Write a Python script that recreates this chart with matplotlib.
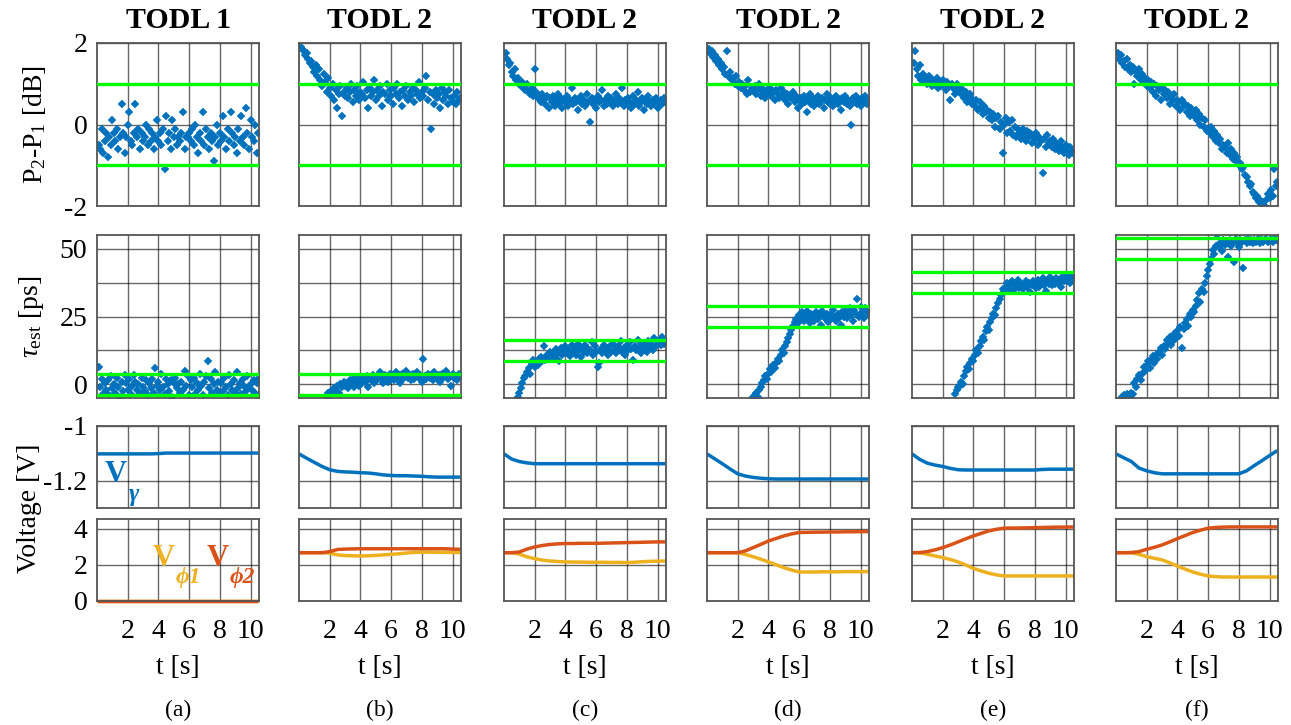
import numpy as np
import matplotlib
matplotlib.use('Agg')
import matplotlib.pyplot as plt

plt.rcParams['font.family'] = ['Liberation Serif', 'DejaVu Serif']
plt.rcParams['mathtext.fontset'] = 'custom'
plt.rcParams['mathtext.rm'] = 'Liberation Serif'
plt.rcParams['mathtext.it'] = 'Liberation Serif:italic'
plt.rcParams['mathtext.bf'] = 'Liberation Serif:bold'

# ---- data ----
titles = ['TODL 1', 'TODL 2', 'TODL 2', 'TODL 2', 'TODL 2', 'TODL 2']
panel_tags = ['(a)', '(b)', '(c)', '(d)', '(e)', '(f)']

# P2-P1 [dB], sampled every 0.1 s from t = 0.1 s
p_a = [-0.5, -0.6, -0.1, -0.7, -0.4, -0.2, -0.8, -0.3, -0.5, 0.1,
       -0.2, -0.4, -0.1, -0.6, -0.3, 0.5, -0.2, -0.7, -0.3, 0.0,
       0.3, -0.4, -0.5, -0.2, 0.5, -0.3, -0.1, -0.6, -0.2, -0.4,
       -0.3, 0.0, -0.5, -0.1, -0.4, -0.2, -0.6, -0.3, 0.1, -0.4,
       -0.2, -0.5, -0.1, -1.1, 0.2, -0.4, -0.2, -0.6, 0.1, -0.3,
       -0.1, -0.5, -0.3, -0.4, -0.2, 0.3, -0.6, -0.3, -0.3, -0.2,
       -0.4, -0.1, -0.5, 0.0, -0.3, -0.7, -0.2, -0.4, 0.3, -0.5,
       -0.1, -0.3, -0.6, -0.2, -0.4, -0.9, -0.3, 0.0, -0.5, -0.2,
       -0.4, 0.2, -0.3, -0.6, -0.1, -0.4, 0.3, -0.2, -0.5, -0.3,
       -0.7, -0.1, -0.4, 0.2, -0.3, -0.5, 0.4, -0.2, -0.6, 0.1,
       -0.3, -0.4, 0.0, -0.7, -0.2]
p_b = [1.9, 1.85, 1.8, 1.7, 1.75, 1.6, 1.5, 1.55, 1.4, 1.3,
       1.45, 1.2, 1.35, 1.1, 0.95, 1.25, 1.05, 0.8, 1.15, 0.9,
       0.7, 1.0, 0.6, 0.85, 0.4, 0.75, 0.95, 0.2, 0.8, 0.7,
       0.9, 0.65, 0.8, 1.0, 0.55, 0.85, 0.7, 0.95, 0.6, 0.8,
       0.75, 1.05, 0.65, 0.85, 0.4, 0.9, 0.7, 0.8, 1.1, 0.6,
       0.85, 0.7, 0.95, 0.45, 0.8, 0.75, 1.0, 0.6, 0.85, 0.7,
       0.5, 0.9, 0.75, 1.0, 0.65, 0.8, 0.45, 0.85, 0.7, 0.95,
       0.6, 0.8, 0.7, 0.9, 0.55, 0.85, 0.75, 1.05, 0.65, 0.8,
       0.7, 0.9, 1.2, 0.6, 0.8, -0.1, 0.75, 0.5, 0.85, 0.65,
       0.75, 0.4, 0.9, 0.6, 0.8, 0.7, 0.5, 0.85, 0.65, 0.55,
       0.7, 0.5, 0.8, 0.6, 0.65]
p_c = [1.75, 1.6, 1.45, 1.5, 1.3, 1.2, 1.35, 1.1, 1.15, 1.0,
       0.95, 1.05, 0.9, 0.85, 1.0, 0.8, 0.75, 0.9, 0.7, 1.35,
       0.8, 0.65, 0.7, 0.55, 0.75, 0.6, 0.5, 0.7, 0.4, 0.65,
       0.55, 0.7, 0.45, 0.6, 0.75, 0.5, 0.65, 0.4, 0.6, 0.55,
       0.7, 0.45, 0.6, 0.9, 0.5, 0.65, 0.55, 0.35, 0.6, 0.7,
       0.5, 0.6, 0.45, 0.75, 0.55, 0.05, 0.65, 0.5, 0.6, 0.4,
       0.7, 0.55, 0.6, 0.85, 0.45, 0.6, 0.5, 0.7, 0.55, 0.65,
       0.45, 0.6, 0.75, 0.5, 0.65, 0.55, 0.9, 0.45, 0.6, 0.5,
       0.65, 0.55, 0.4, 0.7, 0.5, 0.6, 0.8, 0.45, 0.55, 0.65,
       0.35, 0.6, 0.5, 0.7, 0.55, 0.45, 0.6, 0.5, 0.65, 0.4,
       0.55, 0.6, 0.5, 0.65, 0.55]
p_d = [1.85, 1.75, 1.8, 1.65, 1.7, 1.55, 1.6, 1.45, 1.5, 1.35,
       1.4, 1.25, 1.8, 1.2, 1.3, 1.1, 1.15, 1.0, 1.2, 0.95,
       1.05, 0.9, 1.0, 0.85, 0.95, 0.75, 1.1, 0.8, 0.9, 0.85,
       0.95, 0.75, 0.85, 1.0, 0.7, 0.9, 0.8, 0.65, 0.85, 0.75,
       0.9, 0.7, 0.8, 0.6, 0.85, 0.75, 0.65, 0.9, 0.7, 0.8,
       0.6, 0.75, 0.5, 0.7, 0.65, 0.8, 0.55, 0.7, 0.4, 0.6,
       0.65, 0.5, 0.7, 0.55, 0.3, 0.6, 0.75, 0.5, 0.65, 0.45,
       0.6, 0.7, 0.5, 0.55, 0.65, 0.4, 0.6, 0.75, 0.55, 0.5,
       0.65, 0.45, 0.6, 0.7, 0.5, 0.6, 0.35, 0.65, 0.55, 0.7,
       0.5, 0.6, 0.45, 0.0, 0.65, 0.55, 0.7, 0.5, 0.6, 0.45,
       0.65, 0.55, 0.7, 0.5, 0.6]
p_e = [1.5, 1.8, 1.35, 1.2, 1.45, 1.1, 1.25, 1.05, 1.15, 1.0,
       1.2, 1.05, 0.95, 1.1, 1.0, 1.15, 0.9, 1.05, 0.95, 1.1,
       1.0, 0.85, 1.05, 0.95, 0.6, 1.0, 0.9, 0.75, 1.0, 0.85,
       0.9, 0.75, 0.85, 0.65, 0.8, 0.55, 0.7, 0.75, 0.5, 0.6,
       0.45, 0.6, 0.35, 0.55, 0.4, 0.25, 0.45, 0.3, 0.35, 0.15,
       0.3, 0.1, 0.25, -0.05, 0.15, 0.2, -0.1, 0.05, -0.7, 0.0,
       0.15, -0.2, 0.05, -0.15, 0.1, -0.25, -0.05, -0.3, -0.1, -0.2,
       -0.35, -0.1, -0.25, -0.4, -0.15, -0.3, -0.2, -0.45, -0.25, -0.35,
       -0.2, -0.5, -0.3, -0.4, -1.2, -0.35, -0.55, -0.25, -0.45, -0.4,
       -0.55, -0.35, -0.6, -0.45, -0.5, -0.65, -0.4, -0.55, -0.7, -0.5,
       -0.6, -0.75, -0.55, -0.65, -0.7]
p_f = [1.75, 1.6, 1.7, 1.5, 1.55, 1.4, 1.6, 1.35, 1.45, 1.3,
       1.4, 1.0, 1.3, 1.2, 1.35, 1.1, 1.25, 1.05, 1.15, 0.95,
       1.1, 0.9, 1.05, 0.8, 1.0, 0.7, 0.95, 0.85, 0.6, 0.9,
       0.75, 0.85, 0.65, 0.8, 0.5, 0.7, 0.6, 0.75, 0.45, 0.6,
       0.55, 0.35, 0.6, 0.45, 0.5, 0.3, 0.45, 0.2, 0.4, 0.3,
       0.2, 0.35, 0.1, 0.25, 0.0, 0.15, -0.05, 0.1, -0.15, -0.1,
       -0.2, -0.05, -0.3, -0.15, -0.4, -0.25, -0.45, -0.35, -0.6, -0.5,
       -0.55, -0.7, -0.45, -0.75, -0.6, -0.85, -0.7, -0.9, -0.8, -1.0,
       -0.95, -1.1, -1.05, -1.25, -1.3, -1.4, -1.5, -1.45, -1.65, -1.7,
       -1.8, -1.75, -1.9, -1.85, -1.95, -1.9, -2.0, -1.85, -1.7, -1.8,
       -1.6, -1.75, -1.1, -1.5, -1.4]

# tau_est [ps], sampled every 0.1 s from the first visible sample
tau_start = [0.1, 1.8, 0.9, 3.0, 2.8, 0.4]
tau_a = [6.5, -1.0, 2.0, -3.5, 0.5, -2.0, 1.5, -4.0, 3.0, -1.5,
         0.0, -3.0, 2.5, -1.0, -4.5, 1.0, -2.5, 3.5, 0.5, -2.0,
         2.0, -3.5, -0.5, 3.5, 1.0, -2.0, 0.0, -3.0, 2.5, -1.0,
         -2.5, 1.5, -4.0, 0.5, -1.5, 2.0, -3.0, 6.0, -0.5, 1.0,
         -2.0, 4.0, -1.0, -3.5, 2.0, 0.0, -2.5, 1.5, -4.5, 0.5,
         2.5, -1.5, 0.0, -3.0, 1.0, -2.0, 5.0, -0.5, 3.0, -4.0,
         1.5, -1.0, 2.5, -3.5, 0.5, -2.0, 4.0, -0.5, -4.0, 1.0,
         3.0, 8.5, -1.5, 2.0, -3.0, 0.0, 4.5, -2.0, 1.0, -3.5,
         0.5, -2.5, 2.5, -1.0, -4.0, 3.5, 0.0, -2.0, 1.5, -3.0,
         4.5, -1.5, 0.5, -3.5, 2.0, -0.5, -2.5, 3.0, -1.0, 0.0,
         -2.0, 1.5, -3.0, 0.5, 2.0]
tau_b = [-4.5, -3.0, -4.0,
         -2.5, -3.5, -1.5, -2.0, -0.5, -3.0, 0.0, -1.0, 1.0, -0.5,
         0.5, -1.5, 1.5, 0.0, 2.0, -1.0, 1.0, 2.5, -0.5, 1.5,
         0.5, 2.5, 1.0, 3.0, -1.0, 2.0, 1.5, 3.5, 0.5, 2.5,
         1.5, 3.0, 4.5, 2.0, 0.5, 3.5, 2.5, 1.0, 4.0, 2.0,
         3.0, 1.5, 4.5, 2.5, 3.5, 0.5, 4.0, 2.0, 3.0, 5.0,
         2.5, 3.5, 1.5, 4.0, 2.0, 3.0, 4.5, 2.5, 3.5, 1.0,
         9.5, 3.0, 2.0, 4.0, 2.5, 3.5, 1.5, 4.5, 3.0, 2.0,
         3.5, 1.0, 4.0, 2.5, 3.0, 5.0, 2.0, 3.5, -0.5, 4.0,
         2.5, 3.0, 1.5, 4.0, 3.0]
tau_c = [-4.5, -3.0,
         -1.5, 0.5, 2.5, 3.0, 4.5, 6.0, 4.0, 7.5, 9.0, 6.5,
         8.0, 7.0, 9.5, 10.0, 8.5, 14.0, 9.0, 11.0, 10.5, 12.0,
         9.5, 11.5, 10.0, 13.0, 12.0, 8.5, 13.5, 11.0, 12.5, 14.0,
         11.5, 13.0, 10.5, 14.5, 12.0, 13.5, 11.0, 15.0, 12.5, 10.0,
         13.5, 12.0, 14.5, 11.5, 13.0, 12.5, 15.5, 11.0, 14.0, 12.0,
         6.5, 8.0, 13.0, 11.5, 14.5, 12.5, 13.5, 11.0, 14.0, 12.0,
         15.0, 12.5, 11.5, 14.0, 13.0, 16.0, 12.0, 13.5, 11.0, 14.5,
         12.5, 15.5, 13.0, 9.0, 14.0, 12.5, 16.5, 13.5, 11.5, 15.0,
         13.0, 14.5, 12.0, 16.0, 13.5, 15.0, 12.5, 17.0, 14.0, 15.5,
         16.5, 14.5, 17.5, 15.0, 16.0]
tau_d = [-4.8,
         -4.0, -3.0, -4.5, -2.0, -1.0, 0.5, 1.5, 3.0, 2.0, 4.0,
         5.5, 4.5, 7.0, 6.0, 8.0, 9.5, 8.5, 11.0, 12.5, 11.5,
         14.0, 15.5, 17.0, 18.5, 20.0, 21.5, 23.0, 24.0, 22.5, 25.5,
         24.0, 26.5, 23.5, 25.0, 27.0, 24.5, 22.5, 26.0, 25.0, 23.5,
         26.5, 24.0, 25.5, 22.0, 27.0, 25.0, 24.5, 26.0, 23.0, 25.5,
         24.0, 27.5, 25.0, 23.5, 26.0, 24.5, 22.0, 26.5, 25.0, 27.0,
         24.5, 26.0, 28.0, 25.5, 23.5, 27.5, 26.0, 31.5, 25.0, 28.5,
         26.5, 24.5, 28.0, 27.0, 26.0]
tau_e = [-3.5, -2.0, -1.0,
         -0.5, 1.0, 0.0, 3.0, 5.0, 6.5, 5.5, 8.0, 9.5, 8.5,
         11.0, 12.5, 11.5, 14.0, 16.0, 17.5, 16.5, 19.5, 21.0, 20.0,
         23.0, 24.5, 26.0, 25.5, 28.0, 30.0, 31.5, 33.0, 35.0, 34.0,
         36.0, 37.5, 35.0, 36.5, 38.0, 34.5, 37.0, 36.0, 38.5, 35.5,
         37.0, 35.0, 36.5, 38.0, 36.0, 37.5, 34.0, 36.5, 38.0, 37.0,
         35.5, 38.5, 36.0, 37.5, 39.0, 36.5, 34.5, 38.0, 37.0, 39.5,
         36.5, 38.0, 37.0, 39.0, 37.5, 38.5, 36.0, 39.5, 38.0, 40.0,
         38.5, 39.5, 37.5, 40.0, 39.0]
tau_f = [-4.5, -4.0, -4.5, -3.5, -4.0, -4.5, -3.0,
         -3.5, 0.5, -1.0, 2.0, 3.5, 1.5, 4.0, 6.5, 5.0, 7.0,
         8.5, 6.0, 9.0, 10.5, 8.0, 11.0, 9.5, 12.0, 13.5, 11.0,
         14.0, 13.0, 16.5, 15.0, 17.5, 14.5, 16.0, 18.5, 17.0, 19.5,
         18.0, 21.0, 13.5, 20.5, 22.5, 24.0, 21.5, 26.0, 25.0, 27.5,
         26.5, 29.0, 31.0, 33.5, 30.5, 35.0, 34.0, 37.5, 40.0, 42.0,
         44.5, 46.0, 49.5, 48.0, 51.0, 55.0, 50.5, 52.0, 49.0, 53.0,
         51.5, 52.5, 47.0, 53.0, 51.0, 52.5, 45.0, 53.5, 52.0, 50.5,
         53.0, 52.5, 43.0, 53.0, 52.0, 53.5, 52.5, 53.0, 52.0, 53.0,
         52.5, 53.0, 53.5, 52.0, 53.0, 52.5, 53.0, 53.5, 52.5, 53.0,
         53.0, 52.5, 53.5, 53.0, 53.0]

# tolerance bands (green lines)
p_band = [-1.0, 1.0]
tau_band_lo = [-4.0, -4.0, 8.5, 21.0, 33.5, 46.0]
tau_band_hi = [4.0, 4.0, 16.5, 29.0, 41.5, 54.0]

# bias voltages [V] at knot times
tv = [0, 0.5, 1, 1.5, 2, 2.5, 3, 3.5, 4, 4.5, 5, 5.5, 6, 6.5, 7, 7.5, 8, 8.5, 9, 9.5, 10, 10.5]
vg_a = [-1.102, -1.102, -1.102, -1.102, -1.102, -1.102, -1.102, -1.102, -1.101, -1.099, -1.099,
        -1.099, -1.099, -1.099, -1.099, -1.099, -1.099, -1.099, -1.099, -1.099, -1.099, -1.099]
vg_b = [-1.102, -1.118, -1.133, -1.148, -1.160, -1.166, -1.168, -1.169, -1.171, -1.172, -1.175,
        -1.179, -1.181, -1.182, -1.182, -1.183, -1.184, -1.186, -1.187, -1.187, -1.187, -1.187]
vg_c = [-1.102, -1.121, -1.130, -1.135, -1.138, -1.138, -1.138, -1.138, -1.138, -1.138, -1.138,
        -1.138, -1.138, -1.138, -1.138, -1.138, -1.138, -1.138, -1.138, -1.138, -1.138, -1.138]
vg_d = [-1.102, -1.120, -1.138, -1.157, -1.175, -1.183, -1.188, -1.191, -1.193, -1.194, -1.194,
        -1.194, -1.194, -1.194, -1.194, -1.194, -1.194, -1.194, -1.194, -1.194, -1.194, -1.194]
vg_e = [-1.102, -1.122, -1.136, -1.143, -1.148, -1.155, -1.160, -1.161, -1.161, -1.161, -1.161,
        -1.161, -1.161, -1.161, -1.161, -1.161, -1.161, -1.159, -1.158, -1.158, -1.158, -1.158]
vg_f = [-1.102, -1.116, -1.130, -1.154, -1.164, -1.171, -1.175, -1.175, -1.175, -1.175, -1.175,
        -1.175, -1.175, -1.175, -1.175, -1.175, -1.175, -1.164, -1.145, -1.127, -1.108, -1.090]
vp1_a = [0.0] * 22
vp1_b = [2.68, 2.68, 2.68, 2.68, 2.66, 2.56, 2.52, 2.51, 2.50, 2.51, 2.53,
         2.56, 2.59, 2.62, 2.66, 2.70, 2.71, 2.71, 2.70, 2.70, 2.69, 2.69]
vp1_c = [2.68, 2.68, 2.60, 2.45, 2.35, 2.27, 2.22, 2.19, 2.17, 2.16, 2.16,
         2.15, 2.15, 2.15, 2.14, 2.14, 2.13, 2.15, 2.18, 2.20, 2.21, 2.22]
vp1_d = [2.68, 2.68, 2.68, 2.68, 2.68, 2.58, 2.46, 2.32, 2.17, 2.01, 1.85,
         1.72, 1.61, 1.61, 1.61, 1.62, 1.62, 1.62, 1.63, 1.63, 1.63, 1.63]
vp1_e = [2.68, 2.67, 2.59, 2.50, 2.41, 2.30, 2.17, 2.00, 1.81, 1.67, 1.54,
         1.45, 1.39, 1.39, 1.39, 1.39, 1.39, 1.39, 1.39, 1.39, 1.39, 1.39]
vp1_f = [2.68, 2.68, 2.67, 2.59, 2.46, 2.37, 2.28, 2.12, 1.94, 1.77, 1.61,
         1.49, 1.39, 1.35, 1.33, 1.33, 1.33, 1.33, 1.33, 1.33, 1.33, 1.33]
vp2_a = [0.0] * 22
vp2_b = [2.68, 2.68, 2.68, 2.68, 2.74, 2.86, 2.88, 2.89, 2.90, 2.90, 2.90,
         2.90, 2.90, 2.90, 2.90, 2.90, 2.90, 2.90, 2.90, 2.90, 2.88, 2.87]
vp2_c = [2.68, 2.68, 2.72, 2.88, 3.00, 3.08, 3.14, 3.17, 3.19, 3.19, 3.20,
         3.20, 3.20, 3.21, 3.22, 3.23, 3.24, 3.25, 3.26, 3.27, 3.28, 3.28]
vp2_d = [2.68, 2.68, 2.68, 2.68, 2.68, 2.78, 2.96, 3.14, 3.33, 3.47, 3.61,
         3.72, 3.80, 3.81, 3.82, 3.82, 3.83, 3.83, 3.84, 3.84, 3.85, 3.85]
vp2_e = [2.68, 2.69, 2.74, 2.84, 2.96, 3.11, 3.28, 3.45, 3.61, 3.75, 3.89,
         3.98, 4.04, 4.05, 4.05, 4.06, 4.07, 4.08, 4.09, 4.10, 4.10, 4.11]
vp2_f = [2.68, 2.68, 2.69, 2.74, 2.87, 2.98, 3.11, 3.28, 3.46, 3.63, 3.80,
         3.93, 4.04, 4.08, 4.10, 4.11, 4.11, 4.11, 4.11, 4.11, 4.11, 4.11]

p_all = [p_a, p_b, p_c, p_d, p_e, p_f]
tau_all = [tau_a, tau_b, tau_c, tau_d, tau_e, tau_f]
vg_all = [vg_a, vg_b, vg_c, vg_d, vg_e, vg_f]
vp1_all = [vp1_a, vp1_b, vp1_c, vp1_d, vp1_e, vp1_f]
vp2_all = [vp2_a, vp2_b, vp2_c, vp2_d, vp2_e, vp2_f]

# ---- styling / layout ----
BLUE = '#0072BD'
ORANGE = '#D95319'
YELLOW = '#EDB120'
GREEN = '#00FF00'

W, H = 1291, 725
COL_X = [97, 299, 504, 707, 912, 1116]
AX_W = 162
ROW_Y = [(43, 206), (235, 398), (426, 508), (519, 601)]
TICK_FS = 20
MS = 4.4

fig = plt.figure(figsize=(W / 100, H / 100), dpi=100)


def add_ax(col, row):
    top, bot = ROW_Y[row]
    ax = fig.add_axes([COL_X[col] / W, 1 - bot / H, AX_W / W, (bot - top) / H])
    ax.set_xlim(0, 10.55)
    ax.set_xticks([2, 4, 6, 8, 10])
    ax.grid(True, color='k', alpha=0.6, lw=1.0)
    ax.set_axisbelow(True)
    for s in ax.spines.values():
        s.set_color('#555555')
        s.set_linewidth(1.3)
    ax.tick_params(length=0, labelsize=TICK_FS)
    ax.tick_params(axis='x', pad=13)
    ax.tick_params(axis='y', pad=7)
    ax.tick_params(labelbottom=(row == 3), labelleft=(col == 0))
    return ax


for c in range(6):
    # row 1: power difference
    ax = add_ax(c, 0)
    p = p_all[c]
    tp = 0.1 * np.arange(1, len(p) + 1)
    ax.plot(tp, p, 'D', color=BLUE, ms=MS, mew=0.3, mec=BLUE, ls='none', zorder=2)
    for yb in p_band:
        ax.axhline(yb, color=GREEN, lw=2.4, zorder=3)
    ax.set_ylim(-2, 2)
    ax.set_yticks([-2, -1, 0, 1, 2])
    ax.set_yticklabels(['-2', '', '0', '', '2'])

    # row 2: estimated delay
    ax = add_ax(c, 1)
    tau = tau_all[c]
    tt = tau_start[c] + 0.1 * np.arange(len(tau))
    ax.plot(tt, tau, 'D', color=BLUE, ms=MS, mew=0.3, mec=BLUE, ls='none', zorder=2)
    ax.axhline(tau_band_lo[c], color=GREEN, lw=2.4, zorder=3)
    ax.axhline(tau_band_hi[c], color=GREEN, lw=2.4, zorder=3)
    ax.set_ylim(-5, 55)
    ax.set_yticks([0, 12.5, 25, 37.5, 50])
    ax.set_yticklabels(['0', '', '25', '', '50'])

    # row 3: V_gamma
    ax = add_ax(c, 2)
    ax.plot(tv, vg_all[c], color=BLUE, lw=2.5, solid_capstyle='butt')
    ax.set_ylim(-1.3, -1.0)
    ax.set_yticks([-1.2, -1.0])
    ax.set_yticklabels(['-1.2', '-1'])

    # row 4: V_phi1 / V_phi2
    ax = add_ax(c, 3)
    ax.plot(tv, vp1_all[c], color=YELLOW, lw=2.5, clip_on=False, solid_capstyle='butt')
    ax.plot(tv, vp2_all[c], color=ORANGE, lw=2.5, clip_on=False, solid_capstyle='butt')
    ax.set_ylim(0, 4.55)
    ax.set_yticks([0, 2, 4])
    ax.set_yticklabels(['0', '2', '4'])

    cx = (COL_X[c] + AX_W / 2) / W
    fig.text(cx, 1 - 21 / H, titles[c], ha='center', va='center',
             fontsize=21.5, fontweight='bold')
    fig.text(cx, 1 - 668 / H, 't [s]', ha='center', va='center', fontsize=20)
    fig.text(cx, 1 - 710 / H, panel_tags[c], ha='center', va='center', fontsize=17)

# y labels
fig.text(34 / W, 1 - 125 / H, r'P$_2$-P$_1$ [dB]', rotation=90,
         ha='center', va='center', fontsize=20)
fig.text(32 / W, 1 - 317 / H, r'$\tau_{\rm est}$ [ps]', rotation=90,
         ha='center', va='center', fontsize=20)
fig.text(29 / W, 1 - 508 / H, 'Voltage [V]', rotation=90,
         ha='center', va='center', fontsize=20)

# in-axes labels of the voltage traces
fig.text(116 / W, 1 - 475 / H, 'V', color=BLUE, fontsize=22, fontweight='bold',
         ha='center', va='center')
fig.text(134 / W, 1 - 494 / H, 'γ', color=BLUE, fontsize=18, fontweight='bold',
         fontstyle='italic', ha='center', va='center')
fig.text(163.5 / W, 1 - 559 / H, 'V', color=YELLOW, fontsize=22, fontweight='bold',
         ha='center', va='center')
fig.text(188 / W, 1 - 578 / H, 'ϕ1', color=YELLOW, fontsize=17, fontweight='bold',
         fontstyle='italic', ha='center', va='center')
fig.text(217.5 / W, 1 - 559 / H, 'V', color=ORANGE, fontsize=22, fontweight='bold',
         ha='center', va='center')
fig.text(242 / W, 1 - 578 / H, 'ϕ2', color=ORANGE, fontsize=17, fontweight='bold',
         fontstyle='italic', ha='center', va='center')

fig.savefig('out.png', dpi=100)
